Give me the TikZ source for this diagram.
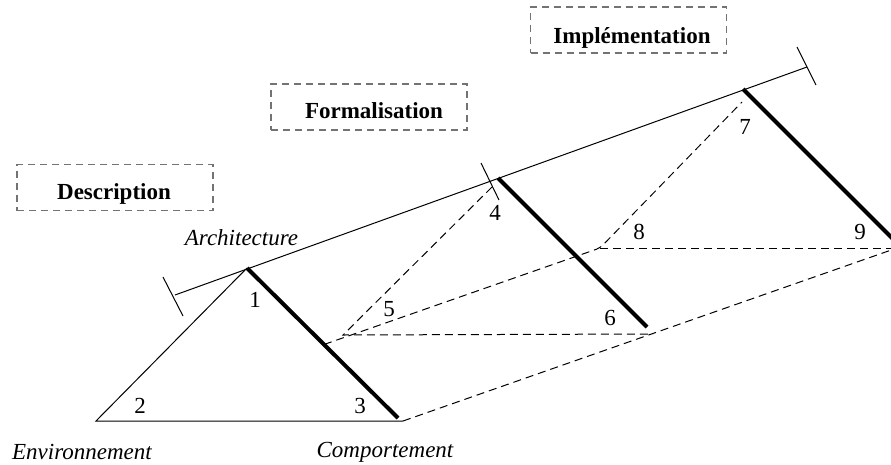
\documentclass[tikz,border=0pt]{standalone}
\usepackage{fontspec}
\setmainfont{Liberation Serif}
\usetikzlibrary{calc}
\begin{document}
\begin{tikzpicture}[x=1pt,y=-1pt,
  thinline/.style={line width=1pt},
  thickedge/.style={line width=4pt},
  rail/.style={line width=1pt, dash pattern=on 8pt off 5pt},
  phase/.style={draw=black!55, line width=1.2pt, dash pattern=on 7pt off 5pt,
    minimum width=196pt, minimum height=46pt, inner sep=0pt},
  phasetext/.style={anchor=base, inner sep=0pt,
    font=\fontsize{23}{27}\selectfont\bfseries},
  lbl/.style={font=\fontsize{23}{27}\selectfont, inner sep=0pt},
  axislbl/.style={font=\fontsize{23}{27}\selectfont\itshape, inner sep=0pt}]
\useasboundingbox (0,0) rectangle (891,464);
\clip (0,0) rectangle (891,464);

% phase boxes and their titles
\node[phase] (desc) at (115,187.5) {};
\node[phase] (form) at (369,107) {};
\node[phase] (impl) at (628.5,30) {};
\node[phasetext] (desct) at ($(desc.center)+(-1,11.5)$) {Description};
\node[phasetext] (formt) at ($(form.center)+(5,11)$) {Formalisation};
\node[phasetext] (implt) at ($(impl.center)+(3.5,13)$) {Implémentation};

% axis of development with its three marks
\coordinate (L) at (175,295);
\coordinate (R) at (807,67);
\coordinate (TLa) at (163,277); \coordinate (TLb) at (183,316);
\coordinate (TMa) at (481,163); \coordinate (TMb) at (499,200);
\coordinate (TRa) at (797,47);  \coordinate (TRb) at (816,85);
\draw[thinline] (L) -- (R);
\draw[thinline] (TLa) -- (TLb);
\draw[thinline] (TMa) -- (TMb);
\draw[thinline] (TRa) -- (TRb);

% first triangle
\coordinate (A1) at (247,268);
\coordinate (E)  at (96,421);
\coordinate (C)  at (403,421);
\coordinate (C1) at (398,418);
\draw[thinline] (C) -- (E) -- (A1);
\draw[thickedge] (A1) -- (C1);

% behaviour edges of the later triangles
\coordinate (A2) at (498,178);
\coordinate (B2) at (647,327);
\coordinate (A3) at (743,89);
\coordinate (B3) at (897,243);
\draw[thickedge] (A2) -- (B2);
\draw[thickedge] (A3) -- (B3);

% dashed construction of the second and third triangles
\coordinate (P)  at ($(A1)!0.51!(C1)$);
\coordinate (T4) at (492,187);
\coordinate (S5) at (343,335);
\coordinate (S6) at (653,334);
\coordinate (T7) at (742,102);
\coordinate (S8) at (600,248);
\coordinate (S9) at (897,248);
\draw[rail] (T4) -- (S5) -- (S6);
\draw[rail, rounded corners=4pt] (P) -- (S8) -- (T7);
\draw[rail] (S8) -- (S9);
\draw[rail] (C) -- (S9);

% vertex numbers
\node[lbl] (n1) at (255,300) {1};
\node[lbl] (n2) at (140,406) {2};
\node[lbl] (n3) at (360,406) {3};
\node[lbl] (n4) at (495,213) {4};
\node[lbl] (n5) at (389,309) {5};
\node[lbl] (n6) at (610,318) {6};
\node[lbl] (n7) at (745,127) {7};
\node[lbl] (n8) at (639,232) {8};
\node[lbl] (n9) at (860,232) {9};

% axis names
\node[axislbl] (arch) at (241.5,238) {Architecture};
\node[axislbl] (env)  at (82,452) {Environnement};
\node[axislbl] (comp) at (385,452) {Comportement};
\end{tikzpicture}
\end{document}
